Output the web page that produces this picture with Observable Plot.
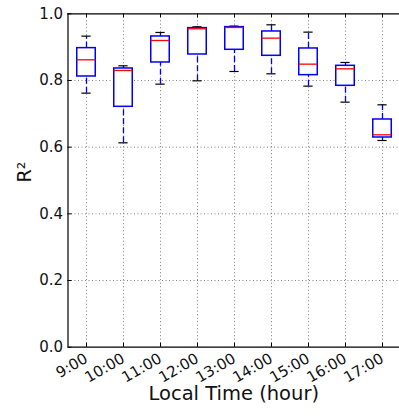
<!DOCTYPE html>
<html>
<head>
<meta charset="utf-8">
<script src="https://cdn.jsdelivr.net/npm/d3@7"></script>
<script src="https://cdn.jsdelivr.net/npm/@observablehq/plot@0.6"></script>
<style>
html, body { margin: 0; padding: 0; background: #fff; }
</style>
</head>
<body>
<div id="chart"></div>
<script>
const hours = ["9:00", "10:00", "11:00", "12:00", "13:00", "14:00", "15:00", "16:00", "17:00"];
const whiskerLow  = [0.762, 0.613, 0.789, 0.799, 0.827, 0.820, 0.783, 0.735, 0.620];
const quart1      = [0.812, 0.721, 0.854, 0.878, 0.892, 0.874, 0.816, 0.784, 0.629];
const medians     = [0.862, 0.830, 0.920, 0.955, 0.959, 0.927, 0.849, 0.835, 0.637];
const quart3      = [0.897, 0.836, 0.932, 0.957, 0.960, 0.947, 0.896, 0.844, 0.683];
const whiskerHigh = [0.933, 0.844, 0.944, 0.961, 0.963, 0.967, 0.945, 0.854, 0.727];
const yTicks = [0, 0.2, 0.4, 0.6, 0.8, 1.0];
const xLabel = "Local Time (hour)";
const yLabel = "R²";

const data = hours.map((h, i) => ({
  pos: i + 1, label: h,
  lo: whiskerLow[i], q1: quart1[i], med: medians[i], q3: quart3[i], hi: whiskerHigh[i]
}));

const pTop = 13.3, pBottom = 346.7, pLeft = 67.5, pRight = 400.5;
const tickLenY = 4 / (pBottom - pTop);      // in data units
const tickLenX = 4 / ((pRight - pLeft) / 9);
const grid = {stroke: "#000", strokeOpacity: 0.5, strokeWidth: 1, strokeDasharray: "1,2.5"};
const ink = "#111";

const chart = Plot.plot({
  width: 399,
  height: 417,
  marginLeft: pLeft,
  marginTop: pTop,
  marginBottom: 417 - pBottom,
  marginRight: 0,
  style: {fontFamily: "'DejaVu Sans', sans-serif", background: "#fff", color: ink},
  x: {type: "linear", domain: [0.5, 9.5], range: [pLeft, pRight], axis: null},
  y: {domain: [0, 1], range: [pBottom, pTop], axis: null},
  marks: [
    // grid
    Plot.ruleY(yTicks.filter(d => d > 0 && d < 1), {y: d => d, ...grid}),
    Plot.ruleX(data, {x: "pos", y1: 0, y2: 1, ...grid}),
    // whiskers
    Plot.ruleX(data, {x: "pos", y1: "lo", y2: "q1", stroke: "#0000ff", strokeWidth: 1.3, strokeDasharray: "6,3"}),
    Plot.ruleX(data, {x: "pos", y1: "q3", y2: "hi", stroke: "#0000ff", strokeWidth: 1.3, strokeDasharray: "6,3"}),
    // caps
    Plot.ruleY(data, {y: "lo", x1: d => d.pos - 0.125, x2: d => d.pos + 0.125, stroke: "#000", strokeWidth: 1.2}),
    Plot.ruleY(data, {y: "hi", x1: d => d.pos - 0.125, x2: d => d.pos + 0.125, stroke: "#000", strokeWidth: 1.2}),
    // boxes
    Plot.rect(data, {x1: d => d.pos - 0.25, x2: d => d.pos + 0.25, y1: "q1", y2: "q3", fill: "#fff", stroke: "#0000ff", strokeWidth: 1.5}),
    // medians
    Plot.ruleY(data, {y: "med", x1: d => d.pos - 0.25, x2: d => d.pos + 0.25, stroke: "#ff0000", strokeWidth: 1.3}),
    // spines
    Plot.ruleX([0.5], {x: d => d, y1: 0, y2: 1, stroke: "#000", strokeWidth: 1.2}),
    Plot.ruleY([0, 1], {y: d => d, x1: 0.5, x2: 9.5, stroke: "#000", strokeWidth: 1.2}),
    // inside ticks
    Plot.ruleX(data, {x: "pos", y1: 0, y2: tickLenY, stroke: "#000", strokeWidth: 1}),
    Plot.ruleX(data, {x: "pos", y1: 1 - tickLenY, y2: 1, stroke: "#000", strokeWidth: 1}),
    Plot.ruleY(yTicks, {y: d => d, x1: 0.5, x2: 0.5 + tickLenX, stroke: "#000", strokeWidth: 1}),
    // tick labels
    Plot.text(yTicks, {x: 0.5, y: d => d, text: d => d.toFixed(1), textAnchor: "end", dx: -5, fontSize: 15, fill: ink}),
    Plot.text(data, {x: "pos", y: 0, text: "label", rotate: -30, textAnchor: "end", lineAnchor: "top", dx: -3, dy: 5, fontSize: 15, fill: ink}),
    // axis labels
    Plot.text([xLabel], {frameAnchor: "bottom", text: d => d, dy: 53, fontSize: 19.5, fill: ink}),
    Plot.text([yLabel], {frameAnchor: "left", text: d => d, rotate: -90, dx: -43, dy: 2, fontSize: 19, fill: ink})
  ]
});
document.getElementById("chart").appendChild(chart);
</script>
</body>
</html>
